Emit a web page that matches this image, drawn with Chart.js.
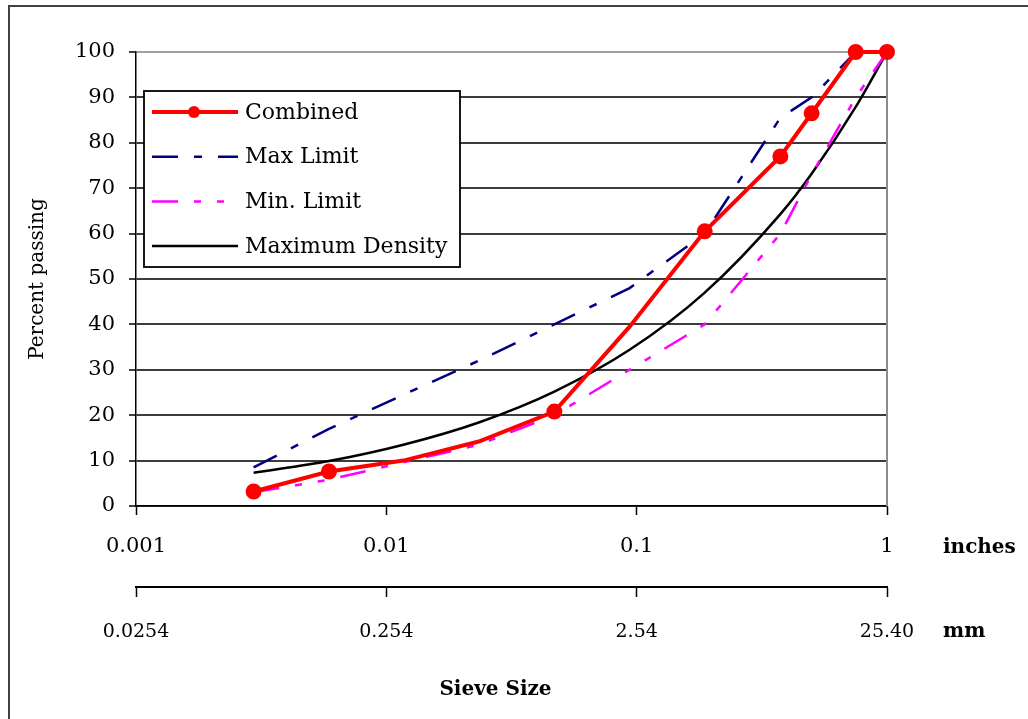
<!DOCTYPE html>
<html>
<head>
<meta charset="utf-8">
<title>Sieve analysis</title>
<script src="https://cdn.jsdelivr.net/npm/chart.js@4.4.1/dist/chart.umd.min.js"></script>
<style>
    html, body { margin: 0; padding: 0; background: #fff; overflow: hidden; }
    #frame { position: absolute; left: 8px; top: 5px; width: 1100px; height: 800px; border: 2px solid #404040; }
    #wrap { position: absolute; left: 0; top: 0; width: 1028px; height: 719px; }
</style>
</head>
<body>
<div id="frame"></div>
<div id="wrap"><canvas id="gradationChart"></canvas></div>
<script>
// sieve openings in inches (No.200 ... 1")
const sieveInches = [0.00295, 0.0059, 0.0117, 0.0234, 0.0469, 0.0937, 0.187, 0.375, 0.5, 0.75, 1];
const combinedPassing = [3.2, 7.6, 10, 14.2, 20.8, 39.5, 60.5, 77, 86.5, 100, 100];
const combinedMarker = [true, true, false, false, true, false, true, true, true, true, true];
const maxLimitPassing = [8.5, 17, 24.5, 32, 40, 48, 60, 85.5, 90, 100, 100];
const minLimitPassing = [3, 5.8, 9.6, 13.5, 20, 30, 40, 60, 73, 90, 100];
const maxDensityPassing = [7.3, 9.9, 13.5, 18.4, 25.2, 34.4, 47, 64.3, 73.2, 87.9, 100];

const seriesNames = ['Combined', 'Max Limit', 'Min. Limit', 'Maximum Density'];
const inchTicks = [0.001, 0.01, 0.1, 1];
const inchTickLabels = ['0.001', '0.01', '0.1', '1'];
const mmTicks = [0.0254, 0.254, 2.54, 25.4];
const mmTickLabels = ['0.0254', '0.254', '2.54', '25.40'];

const SERIF = "'DejaVu Serif', serif";
Chart.defaults.font.family = SERIF;
Chart.defaults.color = '#000';

const toPoints = vals => sieveInches.map((x, i) => ({x: x, y: vals[i]}));

const datasets = [{
    label: seriesNames[0],
    data: toPoints(combinedPassing),
    borderColor: '#ff0000',
    backgroundColor: '#ff0000',
    borderWidth: 4,
    pointRadius: combinedMarker.map(m => m ? 6 : 0),
    pointStyle: 'circle',
    tension: 0,
    clip: false
}, {
    label: seriesNames[1],
    data: toPoints(maxLimitPassing),
    borderColor: '#000080',
    borderWidth: 2.5,
    borderDash: [26, 16, 8, 16],
    pointRadius: 0,
    tension: 0
}, {
    label: seriesNames[2],
    data: toPoints(minLimitPassing),
    borderColor: '#ff00ff',
    borderWidth: 2.5,
    borderDash: [26, 16, 7, 16, 7, 16],
    pointRadius: 0,
    tension: 0
}, {
    label: seriesNames[3],
    data: toPoints(maxDensityPassing),
    borderColor: '#000000',
    borderWidth: 2.5,
    pointRadius: 0,
    cubicInterpolationMode: 'monotone'
}];

// gray right edge of the plot area
const plotFrame = {
    id: 'plotFrame',
    beforeDatasetsDraw(chart) {
        const {ctx, chartArea: a} = chart;
        ctx.save();
        ctx.strokeStyle = '#8c8c8c';
        ctx.lineWidth = 2;
        ctx.beginPath();
        ctx.moveTo(a.right, a.top);
        ctx.lineTo(a.right, a.bottom);
        ctx.stroke();
        ctx.restore();
    }
};

// boxed legend inside the plot
const boxLegend = {
    id: 'boxLegend',
    afterDatasetsDraw(chart) {
        const {ctx, chartArea: a} = chart;
        const bx = a.left + 8, by = a.top + 39, bw = 316, bh = 176;
        ctx.save();
        ctx.fillStyle = '#fff';
        ctx.fillRect(bx, by, bw, bh);
        ctx.strokeStyle = '#000';
        ctx.lineWidth = 1.8;
        ctx.strokeRect(bx, by, bw, bh);
        chart.data.datasets.forEach((ds, i) => {
            const y = by + 21 + i * 44.7;
            ctx.save();
            ctx.strokeStyle = ds.borderColor;
            ctx.lineWidth = ds.borderWidth;
            ctx.setLineDash(ds.borderDash || []);
            ctx.beginPath();
            ctx.moveTo(bx + 8, y);
            ctx.lineTo(bx + 94, y);
            ctx.stroke();
            ctx.restore();
            if (i === 0) {
                ctx.fillStyle = ds.borderColor;
                ctx.beginPath();
                ctx.arc(bx + 50, y, 6, 0, Math.PI * 2);
                ctx.fill();
            }
            ctx.fillStyle = '#000';
            ctx.font = '22px ' + SERIF;
            ctx.textBaseline = 'middle';
            ctx.textAlign = 'left';
            ctx.fillText(ds.label, bx + 101, y + 1);
        });
        ctx.restore();
    }
};

// unit captions and axis title
const unitText = {
    id: 'unitText',
    afterDraw(chart) {
        const {ctx, chartArea: a} = chart;
        const x = chart.scales.x, x2 = chart.scales.x2;
        ctx.save();
        ctx.fillStyle = '#000';
        ctx.font = 'bold 20px ' + SERIF;
        ctx.textBaseline = 'middle';
        ctx.textAlign = 'left';
        ctx.fillText('inches', a.right + 56, x.top + 42);
        ctx.fillText('mm', a.right + 56, x2.top + 45);
        ctx.textAlign = 'center';
        ctx.fillText('Sieve Size', (a.left + a.right) / 2 - 16, x2.top + 103);
        ctx.restore();
    }
};

const ctx = document.getElementById('gradationChart').getContext('2d');
new Chart(ctx, {
    type: 'line',
    data: {datasets: datasets},
    plugins: [plotFrame, boxLegend, unitText],
    options: {
        responsive: true,
        maintainAspectRatio: false,
        animation: false,
        devicePixelRatio: 1,
        layout: {padding: {left: 0, top: 52, right: 141, bottom: 62}},
        plugins: {legend: {display: false}, tooltip: {enabled: false}},
        scales: {
            x: {
                type: 'logarithmic',
                position: 'bottom',
                min: 0.001,
                max: 1,
                afterBuildTicks: s => { s.ticks = inchTicks.map(v => ({value: v})); },
                afterFit: s => { s.height = 81; },
                ticks: {
                    autoSkip: false, maxRotation: 0, padding: 19,
                    font: {size: 21}, color: '#000',
                    callback: (v, i) => inchTickLabels[i]
                },
                grid: {drawOnChartArea: false, drawTicks: true, tickLength: 9, tickColor: '#000', tickWidth: 1.5},
                border: {display: true, color: '#000', width: 1.5}
            },
            x2: {
                type: 'logarithmic',
                position: 'bottom',
                min: 0.0254,
                max: 25.4,
                afterBuildTicks: s => { s.ticks = mmTicks.map(v => ({value: v})); },
                afterFit: s => { s.height = 70; },
                ticks: {
                    autoSkip: false, maxRotation: 0, padding: 24,
                    font: {size: 19}, color: '#000',
                    callback: (v, i) => mmTickLabels[i]
                },
                grid: {drawOnChartArea: false, drawTicks: true, tickLength: 10, tickColor: '#000', tickWidth: 1.5},
                border: {display: true, color: '#000', width: 2}
            },
            y: {
                min: 0,
                max: 100,
                afterFit: s => { s.width = 136; },
                ticks: {stepSize: 10, padding: 14, font: {size: 21}, color: '#000'},
                grid: {
                    color: c => c.tick && c.tick.value === 100 ? '#a0a0a0' : '#3c3c3c',
                    lineWidth: 2,
                    tickLength: 7,
                    tickColor: '#000',
                    tickWidth: 1.5
                },
                border: {display: true, color: '#000', width: 1.5},
                title: {display: true, text: 'Percent passing', font: {size: 20}, color: '#000', padding: {top: 26}}
            }
        }
    }
});
</script>
</body>
</html>
